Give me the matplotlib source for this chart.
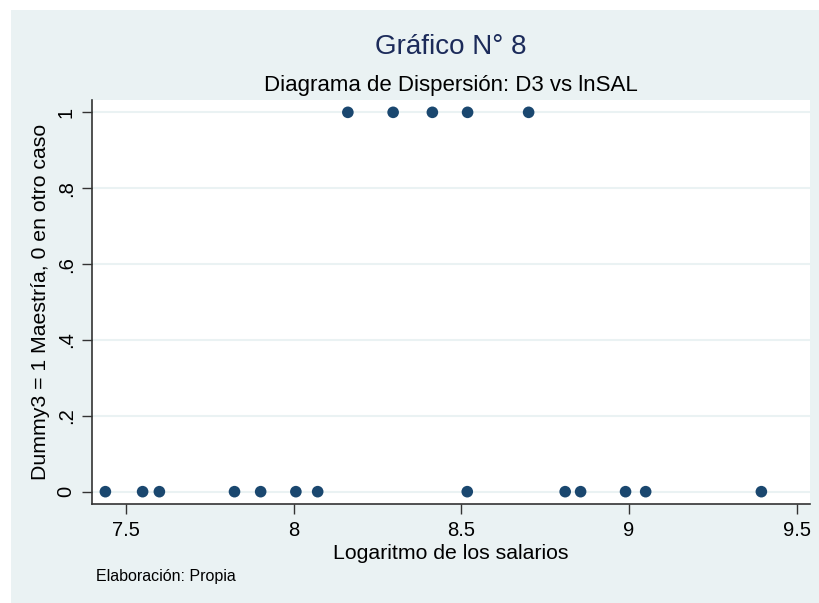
import matplotlib
matplotlib.use("Agg")
import matplotlib.pyplot as plt
from matplotlib.patches import Rectangle

plt.rcParams['font.family'] = ['Liberation Sans', 'DejaVu Sans']

# Data (log salaries vs dummy)
lnsal_d1 = [8.162, 8.297, 8.414, 8.519, 8.701]
d3_d1 = [1, 1, 1, 1, 1]
lnsal_d0 = [7.439, 7.550, 7.600, 7.824, 7.902, 8.007, 8.072,
            8.518, 8.810, 8.856, 8.990, 9.050, 9.395]
d3_d0 = [0] * len(lnsal_d0)

xticks = [7.5, 8, 8.5, 9, 9.5]
xticklabels = ["7.5", "8", "8.5", "9", "9.5"]
yticks = [0, 0.2, 0.4, 0.6, 0.8, 1]
yticklabels = ["0", ".2", ".4", ".6", ".8", "1"]

bg = "#EAF2F3"
navy = "#1A476F"

fig = plt.figure(figsize=(8.2, 6.03), dpi=100)
fig.patch.set_facecolor("white")
fig.patches.append(Rectangle((11/820, 0), 1 - 11/820, 1 - 10/603,
                             transform=fig.transFigure, facecolor=bg,
                             edgecolor="none", zorder=-10))

left, right, top, bottom = 92.3, 810, 100, 504
ax = fig.add_axes([left/820, 1 - bottom/603, (right - left)/820, (bottom - top)/603])
ax.set_facecolor("white")

ax.scatter(lnsal_d1 + lnsal_d0, d3_d1 + d3_d0, s=70, color=navy,
           edgecolors="none", zorder=3, clip_on=False)

ax.set_xlim(7.40, 9.54)
ax.set_ylim(-0.0325, 1.0325)
ax.set_xticks(xticks)
ax.set_xticklabels(xticklabels, fontsize=14.5)
ax.set_yticks(yticks)
ax.set_yticklabels(yticklabels, fontsize=14.5, rotation=90, va="center")
ax.tick_params(axis="both", length=7, width=1, color="#333333", pad=5)

ax.grid(axis="y", color=bg, linewidth=1.5, zorder=0)
ax.set_axisbelow(True)
for s in ["top", "right"]:
    ax.spines[s].set_visible(False)
for s in ["left", "bottom"]:
    ax.spines[s].set_color("#333333")
    ax.spines[s].set_linewidth(1.2)

ax.set_xlabel("Logaritmo de los salarios", fontsize=15.3, labelpad=3)
ax.set_ylabel("Dummy3 = 1 Maestría, 0 en otro caso", fontsize=15.3, labelpad=5)

cx = (left + right) / 2 / 820
fig.text(cx, 1 - 47/603, "Gráfico N° 8", ha="center", va="center",
         fontsize=20, color="#1C2B5A")
fig.text(cx, 1 - 86/603, "Diagrama de Dispersión: D3 vs lnSAL",
         ha="center", va="center", fontsize=16, color="black")
fig.text(96/820, 1 - 576/603, "Elaboración: Propia", ha="left", va="center",
         fontsize=11.5, color="black")

fig.savefig("out.png", dpi=100, facecolor=fig.get_facecolor())
